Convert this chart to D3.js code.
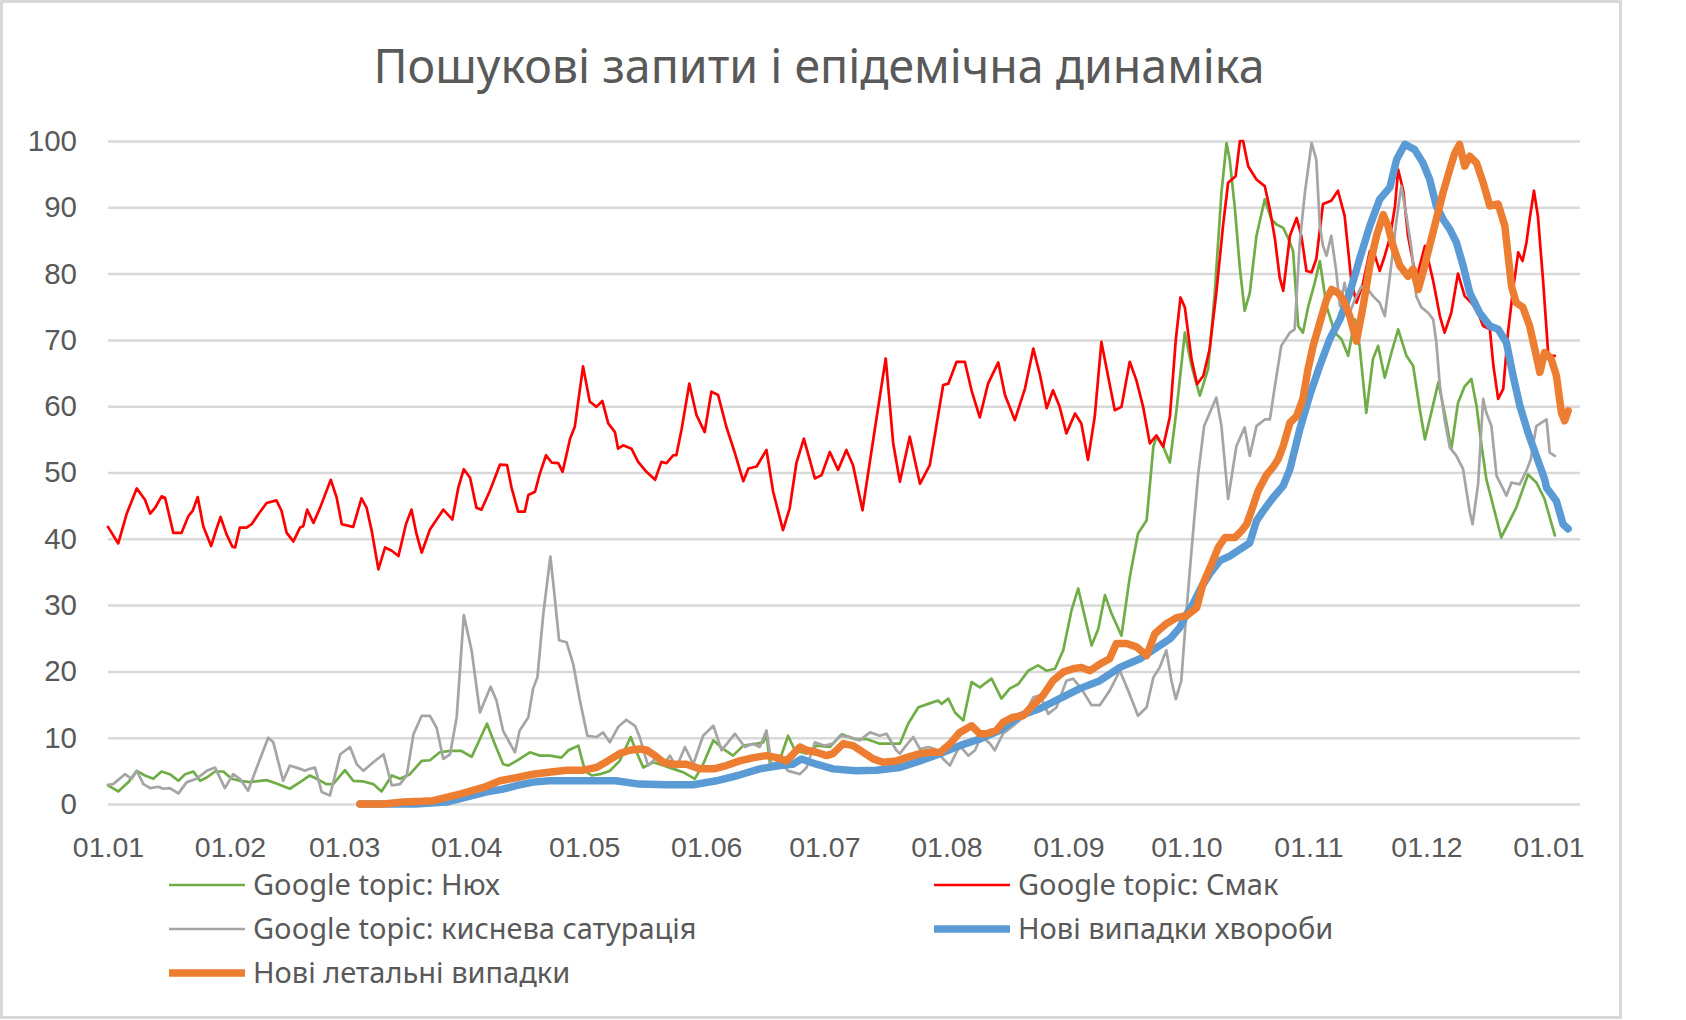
<!DOCTYPE html>
<html>
<head>
<meta charset="utf-8">
<script src="https://cdn.jsdelivr.net/npm/d3@7"></script>
<style>
  html, body { margin: 0; padding: 0; background: #fff; }
  svg { display: block; font-family: "Noto Sans", "Open Sans", sans-serif; }
</style>
</head>
<body>
<div id="chart"></div>
<script>
// пошукові запити Google vs нові випадки / летальні, 2020
// точки: [день від 01.01.2020, значення]

const nyukh = [
  [0,2.8],[2.6,1.9],[5.2,3.3],[7.3,5],[9.4,4.3],[11.5,3.8],[13.6,4.9],[15.7,4.5],[17.9,3.5],[19.6,4.5],
  [21.7,4.9],[23.4,3.5],[25.1,4],[27.2,4.9],[29.3,4.9],[31.4,3.8],[33.5,3.5],[36.1,3.3],[38.6,3.5],[40.3,3.6],
  [42.8,3.1],[46.2,2.3],[48.8,3.3],[51.3,4.3],[53,3.8],[55.5,3],[57.2,3],[60.2,5.1],[62.3,3.5],[64.9,3.4],
  [67.4,3],[69.5,1.9],[72.1,4.3],[74.2,3.8],[76.7,4.5],[79.7,6.5],[81.8,6.6],[84.3,7.8],[86.9,8],[89.8,8],
  [92.4,7.1],[94.5,9.8],[96.3,12.1],[98.3,9],[100.4,6],[101.7,5.8],[103.8,6.5],[107.2,7.8],[109.7,7.3],[112.3,7.3],
  [115.2,7],[117,8.1],[119.5,8.8],[121.2,5],[122.9,4.3],[125,4.5],[127.5,5],[130,6.5],[132.8,10.1],[134.3,7.8],
  [136,5.5],[138.5,6.3],[141.1,5.8],[143.6,5.3],[146.1,4.8],[149.1,3.8],[151.2,6],[153.8,9.6],[156.3,8.3],[158.8,7.3],
  [161.4,8.8],[164.8,9.1],[166.5,9.3],[167.3,10.6],[168.2,6],[170.3,6],[172.8,10.3],[174.5,8.1],[177.5,7.6],[180,8.8],
  [183.4,8.6],[186.4,10.5],[189.7,9.8],[192.7,9.8],[196.1,9.1],[199.5,9.1],[201.2,9.1],[203.3,12.1],[205.9,14.6],[208.4,15.1],
  [210.9,15.6],[211.8,15.1],[213.5,15.9],[215.2,13.8],[217.3,12.6],[219.4,18.4],[221.5,17.6],[224.5,18.9],[227,15.9],[229.1,17.4],
  [231.3,18.1],[233.8,20.1],[236.3,20.9],[238.5,20.1],[240.6,20.4],[242.7,23.2],[244.8,29.2],[246.5,32.5],[248.2,28.2],[249.9,23.9],
  [251.6,26.4],[253.3,31.5],[255,28.7],[257.5,25.4],[259.6,34.2],[261.7,40.8],[263.9,42.8],[265.6,53.9],[266.4,55.4],[268.1,53.9],
  [269.8,51.5],[271.5,59.5],[273.6,71.1],[275.3,66.1],[277.4,61.6],[279.5,65.6],[281.2,77.1],[282.9,92.2],[284.2,99.7],[285,97.2],
  [286.3,89.9],[287.6,80.7],[288.8,74.4],[290.1,77.1],[291.8,85.7],[293.9,91.2],[295.6,88.2],[296.9,87.4],[298.6,86.9],[299.8,85.4],
  [301.1,83.4],[302.4,72.1],[303.6,71.1],[304.9,74.9],[306.6,78.6],[307.9,81.9],[309.6,75.1],[311.7,71.1],[313.4,70.1],[315.1,67.6],
  [316.8,73.1],[318,69.1],[319.7,59],[321.4,67.1],[322.7,69.1],[324.4,64.3],[326.1,68.1],[327.8,71.6],[329.9,67.6],[331.6,66.1],
  [333.3,59.5],[334.6,55],[336.2,59],[338,63.6],[339.6,59],[341.3,53.5],[343,60.5],[344.7,63],[346.4,64.1],[347.7,60.1],
  [349,54],[350.2,49],[354,40.2],[357.8,44.7],[360.8,49.7],[362.9,48.5],[365,46],[367.6,40.5]
];

const smak = [
  [0,41.8],[2.6,39.3],[4.7,43.7],[7.3,47.6],[9.4,45.9],[10.7,43.8],[12,44.7],[13.6,46.4],[14.5,46.2],[16.6,40.9],
  [18.7,40.9],[20.4,43.4],[21.5,44.2],[22.8,46.3],[24.2,41.9],[26.2,38.9],[27.4,41.2],[28.6,43.3],[30.1,40.7],[31.6,38.8],
  [32.3,38.7],[33.5,41.7],[35.2,41.7],[36.5,42.2],[38.2,43.7],[40.3,45.4],[42.8,45.8],[44.1,44.2],[45.4,40.9],[47.1,39.6],
  [48.8,41.7],[49.6,41.9],[50.6,44.4],[52.2,42.4],[53.9,44.7],[56.6,48.9],[58.1,46.2],[59.4,42.2],[62.3,41.8],[64.4,46.1],
  [65.7,44.7],[67,41.2],[68.7,35.4],[70.4,38.7],[72.1,38.2],[73.8,37.4],[75.7,42.2],[77.1,44.4],[78.4,40.7],[79.7,37.9],
  [81.8,41.4],[83.5,42.9],[85.2,44.4],[87.5,42.9],[89,47.7],[90.4,50.5],[92,49.2],[93.6,44.7],[94.9,44.4],[97,47.2],
  [99.6,51.2],[101.4,51.1],[102.5,47.8],[104.2,44.1],[105.9,44.1],[106.8,46.6],[108.5,47.1],[109.7,49.8],[111.3,52.6],[112.7,51.5],
  [114.4,51.4],[115.5,50.1],[117.4,55.1],[118.6,56.9],[120.7,66],[122.4,60.7],[124.1,59.9],[125.6,60.8],[127.1,57.4],[128.8,56.1],
  [129.6,53.6],[130.9,54.1],[133,53.6],[134.7,51.6],[136.8,50.1],[139,48.9],[140.6,51.6],[141.9,51.4],[143.6,52.6],[144.4,52.6],
  [145.7,56.4],[147.7,63.4],[149.5,58.7],[151.6,56.1],[153.3,62.2],[155,61.7],[157.1,56.9],[159.3,52.9],[161.4,48.7],[162.7,50.6],
  [164.8,50.9],[167.3,53.4],[169,47.1],[171.5,41.3],[173.2,44.6],[174.9,51.4],[176.8,55.1],[179.6,49.1],[181.3,49.6],[183.4,53.1],
  [185.5,50.4],[187.6,53.4],[189.3,51.1],[191.7,44.3],[194.8,56.4],[197.6,67.2],[199.5,54.4],[201.2,48.6],[203.7,55.4],[206.3,48.3],
  [208.8,51.1],[212.2,63.2],[213.5,63.4],[215.6,66.7],[217.7,66.7],[219.4,62.4],[221.5,58.3],[223.6,63.4],[226.2,66.6],[227.9,61.7],
  [230.4,57.9],[233,62.7],[235.1,68.7],[236.8,64.7],[238.5,59.7],[240.1,62.4],[241.8,59.9],[243.5,55.9],[245.7,58.9],[247.3,57.4],
  [249,51.9],[250.7,58.4],[252.4,69.7],[254.1,64.5],[255.8,59.4],[257.5,59.9],[259.6,66.7],[261.3,63.9],[263,59.9],[264.7,54.4],
  [266.4,55.6],[268.1,53.9],[269.8,58.4],[271.3,70],[272.5,76.4],[273.6,74.9],[275.3,67.1],[276.7,63.3],[278.3,64.6],[279.9,68.6],
  [281.6,77.1],[283.3,87.2],[284.6,93.7],[286.5,94.7],[287.6,100],[288.4,100],[289.7,96.2],[291.8,94.2],[293.9,93.2],[295.2,89.7],
  [296.5,85.2],[297.7,79.4],[298.6,77.4],[300.3,85.7],[302,88.4],[303.2,85.7],[304.5,80.4],[305.8,80.2],[307,82.2],[308.7,90.5],
  [310.8,91],[312.5,92.5],[314.2,88.7],[315.9,78.9],[317.2,75.6],[318.9,78.6],[320.6,83.4],[321.9,82.7],[323.1,80.4],[324.4,82.7],
  [325.7,85.4],[327,90.2],[327.8,95.7],[329.1,92.5],[330.3,85.7],[332.4,79.1],[334.6,84.2],[336.7,78.9],[338.4,73.6],[339.6,71.1],
  [341.3,74.1],[343,80],[344.7,76.6],[346.4,75.6],[348.1,74.1],[349.4,72.1],[351.1,71.6],[352,66.1],[353.2,61.1],[354.5,62.6],
  [355.7,71.1],[357,77.6],[358.3,83.2],[359.4,81.9],[360.4,84.7],[361.2,88.2],[362.3,92.5],[363.3,88.7],[364.6,79.1],[365.9,68.1],
  [366.7,67.6],[367.6,67.6]
];

const saturatsiia = [
  [0,2.9],[1.3,3],[4.3,4.5],[6,3.8],[7.3,5],[9,3],[10.7,2.4],[12.8,2.6],[14,2.3],[15.7,2.4],
  [17.9,1.6],[20,3.3],[22.5,3.8],[25.1,5],[27.2,5.5],[29.7,2.4],[31.8,4.5],[33.5,3.8],[35.6,2],[37.8,5.5],
  [40.7,10],[42,9.3],[44.5,3.5],[46.2,5.8],[48.8,5.3],[50,5],[51.3,5.3],[52.6,5.5],[54.3,1.8],[56.4,1.3],
  [59,7.5],[61.5,8.6],[63.2,6],[64.9,5],[67.4,6.3],[70,7.5],[72.1,2.8],[74.2,3],[75.9,4.3],[77.6,10.5],
  [79.7,13.3],[81.8,13.3],[83.5,11.5],[85.2,6.8],[86.9,7.5],[88.6,13.1],[90.4,28.5],[92.4,23.1],[94.5,13.8],[97.2,17.7],
  [98.7,15.6],[100.4,11],[103.4,7.8],[104.6,11.1],[106.8,13.1],[108,17.4],[109.1,19.1],[110.6,28.7],[112.4,37.3],[113.5,31.2],
  [114.6,24.7],[116.5,24.4],[118.2,21.1],[119.9,15.6],[121.8,10.3],[124.1,10.1],[125.8,10.8],[127.5,9.3],[129.6,11.6],[131.7,12.7],
  [133.9,11.8],[135.1,10.1],[137.2,5.8],[139.4,7],[141.1,6],[142.8,7.3],[144.4,5.5],[146.6,8.6],[148.7,6],[151.2,10.3],
  [153.8,11.8],[155.9,8.1],[159.3,10.6],[161.8,8.6],[163.9,9.1],[165.6,8.6],[167.3,11.1],[168.6,6],[170.7,6.5],[172.8,5],
  [175.8,4.5],[177.5,5.5],[179.6,9.3],[182.1,8.8],[184.2,9.1],[186,10.3],[188.5,10.1],[191,9.6],[193.6,10.8],[196.1,10.3],
  [197.8,10.6],[200.3,8.1],[201.2,7.6],[203,9],[204.6,10.1],[206.3,8.3],[208.4,8.6],[210.1,8.3],[212.2,6.8],[213.9,5.8],
  [216.4,8.8],[218.6,7.3],[220.3,8.1],[221.9,10.3],[224.1,9.1],[225.3,8.1],[227.4,10.6],[230,11.8],[232.5,13.1],[235.1,16.1],
  [236.8,16.4],[238.9,13.6],[241,14.6],[243.5,18.6],[245.2,18.9],[247.3,17.4],[249.9,14.9],[252,14.9],[254.5,17.1],[257.1,20.1],
  [259.2,17.1],[261.7,13.3],[263.9,14.6],[265.6,19.1],[267.2,20.6],[268.9,23.2],[270.2,18.6],[271.3,15.8],[272.7,18.6],[274,29],
  [275.3,38.3],[277,49.8],[278.5,57],[281.6,61.3],[282.9,57],[284.6,46],[286.7,54],[288.8,56.8],[290.1,52.5],[291.8,57],
  [293.9,58],[295.2,58],[296.5,63.1],[298.1,69.1],[300.3,71.1],[301.5,71.6],[302.8,84.7],[304.1,92.2],[305.8,99.7],[307,97.2],
  [307.9,87.2],[308.7,84.2],[309.6,82.7],[310.8,85.7],[312.1,80.2],[313,75.1],[314.2,78.6],[315.5,74.1],[316.8,76.1],[318.5,78.1],
  [320.2,77.6],[321.4,76.6],[323.1,75.6],[324.4,73.6],[325.7,79.6],[327.4,88.2],[328.6,93.2],[329.9,88.7],[331.2,83.7],[332.4,76.6],
  [333.7,74.9],[335.4,74.1],[336.7,73.1],[337.5,69.6],[338.4,63.1],[339.6,58],[340.9,53.8],[342.6,52.5],[344.3,50.5],[346,44],
  [346.7,42.2],[348.1,48.2],[349.4,61.1],[350.2,59],[351.5,57],[352.8,49.5],[354.5,47.5],[355.3,46.5],[356.6,48.5],[358.7,48.2],
  [360.4,50.3],[361.5,52],[362.9,57],[365.5,58],[366.3,53],[367.6,52.5]
];

const noviVypadky = [
  [64,0],[78,0],[86,0.3],[92,1.2],[96,1.8],[100,2.2],[104,2.8],[108,3.3],[112,3.5],[120.7,3.5],
  [129,3.5],[135,3],[142,2.9],[148.7,2.9],[154.6,3.5],[160,4.3],[165.6,5.3],[170.7,5.8],[174,6],[176.2,6.8],
  [180,6],[184.2,5.3],[190,5],[195.2,5.1],[201.2,5.5],[206.3,6.5],[211.4,7.6],[216.4,8.8],[221.5,9.8],[226.6,11.1],
  [231.7,13.3],[236.8,14.4],[241.8,15.9],[246.9,17.4],[252,18.6],[257.1,20.6],[262.2,21.9],[264.7,22.9],[267.2,23.9],[269.8,24.9],
  [272.3,26.6],[274,28.6],[275.7,30.2],[277.8,32.7],[279.9,34.7],[282.5,36.7],[285,37.4],[287.6,38.4],[290.1,39.4],[291.8,42.7],
  [293.5,44.2],[296,46.2],[298.6,48],[300.3,50.5],[302.8,56.5],[305.3,61.6],[307.9,66.1],[310.4,70.1],[313,73.1],[315.5,77.1],
  [318,82.2],[320.6,87.2],[323.1,91.2],[325.7,93],[327.4,97.2],[329.5,99.5],[332,98.7],[334.1,96.7],[335.8,94.2],[337.5,90.2],
  [339.2,88.2],[340.9,86.7],[342.6,84.7],[344.3,81.2],[346,77.1],[348.5,74.1],[351.1,72.1],[353.2,71.6],[355.3,69.6],[357,64.6],
  [358.7,60.1],[360.8,56],[362.9,52.5],[365,49],[365.5,47.7],[368,45.7],[369.7,42.2],[371,41.5]
];

const letalni = [
  [64,0],[70,0],[75,0.3],[80,0.4],[82.6,0.5],[86,1],[89.4,1.5],[92.5,2],[95.4,2.5],[99.6,3.5],
  [104,4],[108,4.5],[112,4.8],[116.5,5.1],[120.7,5.1],[124.1,5.5],[127,6.5],[130,7.6],[132.5,8.1],[135.1,8.3],
  [137,8.1],[139,7.3],[141.1,6.3],[143.6,6],[147,6],[150.4,5.3],[154,5.3],[157.1,5.8],[160.5,6.5],[164,7],
  [167.3,7.3],[170,7],[172.4,6.5],[175.8,8.6],[177.5,8.1],[180,7.8],[182.6,7.3],[184.2,7.6],[186.8,9.1],[189.3,8.8],
  [191.9,7.8],[194.4,6.8],[196.9,6.3],[200.3,6.5],[202.9,7],[206.3,7.6],[208.8,7.8],[211.4,7.8],[214,9.1],[216.4,10.8],
  [219.4,11.8],[221.5,10.6],[223.2,10.6],[225.7,11.1],[227.4,12.3],[230,13.1],[232.5,13.3],[235,14.9],[237.6,16.4],[240.1,18.6],
  [242.7,19.9],[245.2,20.4],[247.3,20.6],[249.5,20.1],[252,21.1],[254.5,21.9],[256.2,24.2],[258.8,24.2],[261.3,23.7],[263.9,22.4],
  [266,25.7],[268.9,27.2],[271.5,28.1],[274,28.4],[276.6,29.6],[278.2,33.2],[280.4,36.2],[282.1,38.7],[283.8,40.2],[286.3,40.2],
  [288,41.2],[289.3,42.2],[290.5,44.2],[292.2,47.2],[294.3,49.6],[296,50.8],[297.3,52],[298.6,54],[300.3,57.5],[302,58.5],
  [303.6,61.1],[304.9,65.6],[306.2,69.1],[307.9,72.6],[309.6,76.1],[310.9,77.6],[312.5,77.1],[313.8,76.1],[315.5,73.6],[317.2,69.8],
  [318.9,75.1],[320.6,81.2],[322.3,85.7],[324,88.9],[325.2,87.2],[326.5,84.2],[328.2,81.2],[330.3,79.6],[331.6,80.7],[332.9,77.6],
  [334.1,80.2],[335.8,84.2],[337.5,88.2],[339.2,92.2],[340.9,95.7],[342.2,98.2],[343.4,99.5],[344.7,96.2],[346,97.7],[347.7,96.7],
  [349.4,93.7],[351.1,90.2],[353.2,90.5],[354.9,87.2],[356.6,78.1],[357.8,75.6],[359.5,74.9],[361.2,72.1],[362.9,67.6],[363.8,65.1],
  [365,68.1],[366.7,67.1],[368,64.6],[369.3,59],[370.1,57.8],[371,59.3]
];

const yTicks = [0, 10, 20, 30, 40, 50, 60, 70, 80, 90, 100];

// порядок як в Excel: пізніші серії малюються зверху
const series = [
  { name: 'Google topic: Нюх',               data: nyukh,       color: '#70AD47', width: 2.7 },
  { name: 'Google topic: Смак',              data: smak,        color: '#FF0000', width: 2.7 },
  { name: 'Google topic: киснева сатурація', data: saturatsiia, color: '#A5A5A5', width: 2.7 },
  { name: 'Нові випадки хвороби',            data: noviVypadky, color: '#5B9BD5', width: 7.5 },
  { name: 'Нові летальні випадки',           data: letalni,     color: '#ED7D31', width: 7.5 }
];

const W = 1686, H = 1020;
const plot = { left: 108, right: 1580, top: 141, bottom: 804 };
const textColor = '#595959';
const gridColor = '#D9D9D9';

const start = Date.UTC(2020, 0, 1);
const toDate = day => new Date(start + day * 864e5);

const svg = d3.select('#chart').append('svg')
  .attr('width', W)
  .attr('height', H);

// рамка області діаграми
svg.append('rect')
  .attr('x', 1.5).attr('y', 1.5)
  .attr('width', 1619).attr('height', 1016)
  .attr('fill', '#fff')
  .attr('stroke', gridColor)
  .attr('stroke-width', 3);

svg.append('text')
  .attr('x', 819).attr('y', 83)
  .attr('text-anchor', 'middle')
  .attr('fill', textColor)
  .style('font-size', '46.5px')
  .text('Пошукові запити і епідемічна динаміка');

const x = d3.scaleUtc()
  .domain([toDate(0), toDate(374)])
  .range([plot.left, plot.right]);

const y = d3.scaleLinear()
  .domain([0, 100])
  .range([plot.bottom, plot.top]);

// сітка + підписи осі Y
const yAxis = svg.append('g')
  .attr('transform', `translate(${plot.left},0)`)
  .call(d3.axisLeft(y)
    .tickValues(yTicks)
    .tickSize(-(plot.right - plot.left))
    .tickPadding(31));
yAxis.select('.domain').remove();
yAxis.selectAll('line')
  .attr('stroke', gridColor)
  .attr('stroke-width', 2.5);
yAxis.selectAll('text')
  .attr('fill', textColor)
  .style('font-size', '29.5px');

// підписи дат по осі X (перше число кожного місяця)
const xAxis = svg.append('g')
  .attr('transform', `translate(0,${plot.bottom})`)
  .call(d3.axisBottom(x)
    .ticks(d3.utcMonth.every(1))
    .tickFormat(d3.utcFormat('%d.%m'))
    .tickSize(0)
    .tickPadding(33));
xAxis.select('.domain').remove();
xAxis.selectAll('text')
  .attr('fill', textColor)
  .style('font-size', '28.5px');

const line = d3.line()
  .x(d => x(toDate(d[0])))
  .y(d => y(d[1]));

svg.append('g')
  .selectAll('path')
  .data(series)
  .join('path')
  .attr('d', s => line(s.data))
  .attr('fill', 'none')
  .attr('stroke', s => s.color)
  .attr('stroke-width', s => s.width)
  .attr('stroke-linejoin', 'round')
  .attr('stroke-linecap', 'round');

// легенда: два стовпці, три рядки (порядок Excel)
const legendPos = [
  { x: 169, y: 885 }, { x: 934, y: 885 },
  { x: 169, y: 929 }, { x: 934, y: 929 },
  { x: 169, y: 973 }
];

const legend = svg.append('g')
  .selectAll('g')
  .data(series)
  .join('g')
  .attr('transform', (s, i) => `translate(${legendPos[i].x},${legendPos[i].y})`);

legend.append('line')
  .attr('x1', 0).attr('x2', 76)
  .attr('y1', 0).attr('y2', 0)
  .attr('stroke', s => s.color)
  .attr('stroke-width', s => s.width);

legend.append('text')
  .attr('x', 84)
  .attr('dy', '0.36em')
  .attr('fill', textColor)
  .style('font-size', '29px')
  .text(s => s.name);
</script>
</body>
</html>
